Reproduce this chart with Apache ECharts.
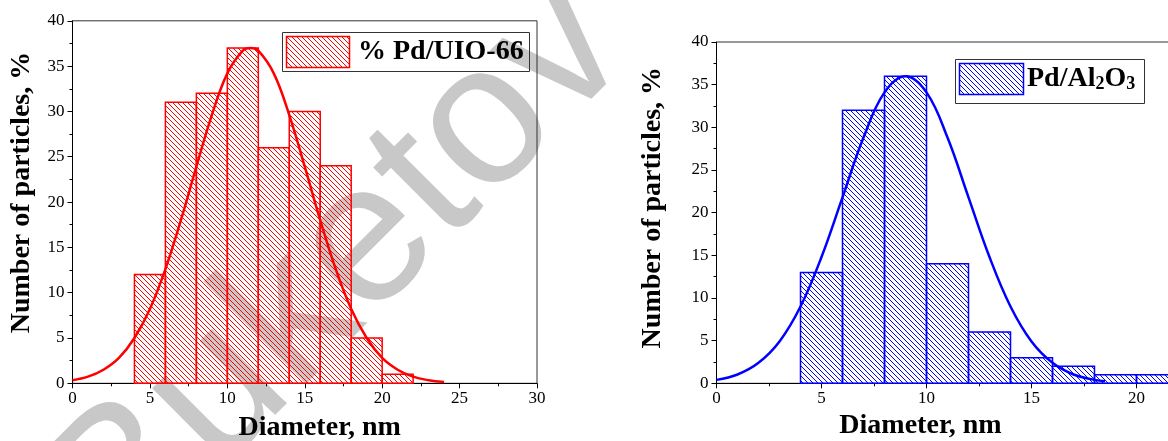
<!DOCTYPE html>
<html><head><meta charset="utf-8">
<script src="https://cdn.jsdelivr.net/npm/echarts@6/dist/echarts.min.js"></script>
<style>html,body{margin:0;padding:0;background:#fff}#c{width:1168px;height:441px}</style>
</head><body><div id="c"></div>
<script>
// ---- data (left: % Pd/UIO-66) ----
const binStartA = [4, 6, 8, 10, 12, 14, 16, 18, 20];
const binEndA   = [6, 8, 10, 12, 14, 16, 18, 20, 22];
const countsA   = [12, 31, 32, 37, 26, 30, 24, 5, 1];
const fitXA = [0, 1, 2, 3, 4, 5, 6, 7, 8, 9, 10, 11, 11.5, 12, 13, 14, 15, 16, 17, 18, 19, 20, 21, 22, 23, 24];
const fitYA = [0.34, 0.73, 1.5, 2.8, 5.0, 8.2, 12.6, 18.0, 23.9, 29.6, 34.2, 36.7, 37.0, 36.7, 34.2, 29.6, 23.9, 18.0, 12.6, 8.2, 5.0, 2.8, 1.5, 0.73, 0.34, 0.14];
// ---- data (right: Pd/Al2O3) ----
const binStartB = [4, 6, 8, 10, 12, 14, 16, 18, 20];
const binEndB   = [6, 8, 10, 12, 14, 16, 18, 20, 22];
const countsB   = [13, 32, 36, 14, 6, 3, 2, 1, 1];
const fitXB = [0, 1, 2, 3, 4, 5, 6, 7, 8, 9, 10, 11, 12, 13, 14, 15, 16, 17, 18, 18.5];
const fitYB = [0.4, 1.03, 2.4, 4.9, 9.0, 14.8, 21.8, 28.8, 34.1, 36.0, 34.1, 28.8, 21.8, 14.8, 9.0, 4.9, 2.4, 1.03, 0.4, 0.24];
const legendA = '% Pd/UIO-66';
const xNameAll = 'Diameter, nm';
const yNameAll = 'Number of particles, %';
const watermark = 'Buketov';

function hatch(color) {
  const s = 5;
  const c = document.createElement('canvas');
  c.width = s; c.height = s;
  const g = c.getContext('2d');
  g.strokeStyle = color; g.lineWidth = 1;
  g.beginPath();
  for (let k = -s; k <= s; k += s) { g.moveTo(k, 0); g.lineTo(k + s, s); }
  g.stroke();
  return { image: c, repeat: 'repeat' };
}
const RED = '#ff0000', BLUE = '#0000ff';
const patA = hatch(RED), patB = hatch(BLUE);
const SERIF = '"Liberation Serif", "Times New Roman", serif';

function bins(s, e, v) { return s.map((x, i) => [x, e[i], v[i]]); }
function renderer(pat, col) {
  return function (params, api) {
    const p0 = api.coord([api.value(0), api.value(2)]);
    const p1 = api.coord([api.value(1), 0]);
    return { type: 'rect', shape: { x: p0[0], y: p0[1], width: p1[0] - p0[0], height: p1[1] - p0[1] },
      style: { fill: pat, stroke: col, lineWidth: 1.5 } };
  };
}
function xAx(idx, max, gap, pad) {
  return { gridIndex: idx, type: 'value', min: 0, max: max, interval: 5,
    name: xNameAll, nameLocation: 'middle', nameGap: gap,
    nameTextStyle: { fontFamily: SERIF, fontWeight: 'bold', fontSize: 28, color: '#000', padding: pad },
    axisLine: { show: true, onZero: false, lineStyle: { color: '#000', width: 1 } },
    axisTick: { show: true, inside: false, length: 5, lineStyle: { color: '#000' } },
    minorTick: { show: true, splitNumber: 2, length: 3, lineStyle: { color: '#000' } },
    splitLine: { show: false },
    axisLabel: { fontFamily: SERIF, fontSize: 17, color: '#000', margin: 7 } };
}
function yAx(idx, gap, pad) {
  return { gridIndex: idx, type: 'value', min: 0, max: 40, interval: 5,
    name: yNameAll, nameLocation: 'middle', nameGap: gap, nameRotate: 90,
    nameTextStyle: { fontFamily: SERIF, fontWeight: 'bold', fontSize: 28, color: '#000', padding: pad },
    axisLine: { show: true, onZero: false, lineStyle: { color: '#000', width: 1 } },
    axisTick: { show: true, inside: false, length: 5, lineStyle: { color: '#000' } },
    minorTick: { show: true, splitNumber: 2, length: 3, lineStyle: { color: '#000' } },
    splitLine: { show: false },
    axisLabel: { fontFamily: SERIF, fontSize: 17, color: '#000', margin: 8 } };
}

const chart = echarts.init(document.getElementById('c'), null, { renderer: 'canvas' });
chart.setOption({
  animation: false,
  backgroundColor: '#fff',
  grid: [
    { left: 72.5, top: 20.8, width: 464.5, height: 362.5, show: true, borderColor: '#333', borderWidth: 1,
      backgroundColor: 'transparent', outerBoundsMode: 'none', containLabel: false },
    { left: 716.5, top: 42, width: 525, height: 341.3, show: true, borderColor: '#333', borderWidth: 1,
      backgroundColor: 'transparent', outerBoundsMode: 'none', containLabel: false }
  ],
  xAxis: [xAx(0, 30, 30, [0, 0, 0, 30]), xAx(1, 25, 23, [0, 117, 0, 0])],
  yAxis: [yAx(0, 37, [0, 0, 0, 19]), yAx(1, 50, [0, 0, 0, 10])],
  series: [
    { type: 'custom', xAxisIndex: 0, yAxisIndex: 0, renderItem: renderer(patA, RED),
      encode: { x: [0, 1], y: 2 }, data: bins(binStartA, binEndA, countsA), z: 2 },
    { type: 'line', xAxisIndex: 0, yAxisIndex: 0, data: fitXA.map((x, i) => [x, fitYA[i]]),
      smooth: 0.4, showSymbol: false, lineStyle: { color: RED, width: 2.5 }, z: 3 },
    { type: 'custom', xAxisIndex: 1, yAxisIndex: 1, renderItem: renderer(patB, BLUE),
      encode: { x: [0, 1], y: 2 }, data: bins(binStartB, binEndB, countsB), z: 2 },
    { type: 'line', xAxisIndex: 1, yAxisIndex: 1, data: fitXB.map((x, i) => [x, fitYB[i]]),
      smooth: 0.4, showSymbol: false, lineStyle: { color: BLUE, width: 2.5 }, z: 3 }
  ],
  graphic: [
    { type: 'text', z: -10, x: 340, y: 272, rotation: 45 * Math.PI / 180,
      style: { text: watermark, font: 'normal 200px "Liberation Sans", Arial, sans-serif', fill: '#c8c8c8',
        align: 'center', verticalAlign: 'middle' } },
    { type: 'rect', z: 10, shape: { x: 282.5, y: 32.5, width: 247, height: 39 }, style: { fill: 'none', stroke: '#333', lineWidth: 1 } },
    { type: 'rect', z: 10, shape: { x: 286.5, y: 36.5, width: 63, height: 31 }, style: { fill: patA, stroke: RED, lineWidth: 1.5 } },
    { type: 'text', z: 10, x: 358, y: 52, style: { text: legendA, font: 'bold 28px ' + SERIF, fill: '#000', align: 'left', verticalAlign: 'middle' } },
    { type: 'rect', z: 10, shape: { x: 955.5, y: 59.5, width: 189, height: 44 }, style: { fill: 'none', stroke: '#333', lineWidth: 1 } },
    { type: 'rect', z: 10, shape: { x: 959.5, y: 63.5, width: 64, height: 31 }, style: { fill: patB, stroke: BLUE, lineWidth: 1.5 } },
    { type: 'text', z: 10, x: 1027, y: 79, style: { text: '{m|Pd/Al}{s|2}{m|O}{s|3}', align: 'left', verticalAlign: 'middle',
        rich: { m: { font: 'bold 28px ' + SERIF, fill: '#000', lineHeight: 28, verticalAlign: 'bottom' },
                s: { font: 'bold 18px ' + SERIF, fill: '#000', lineHeight: 10, verticalAlign: 'bottom' } } } }
  ]
});
</script></body></html>
